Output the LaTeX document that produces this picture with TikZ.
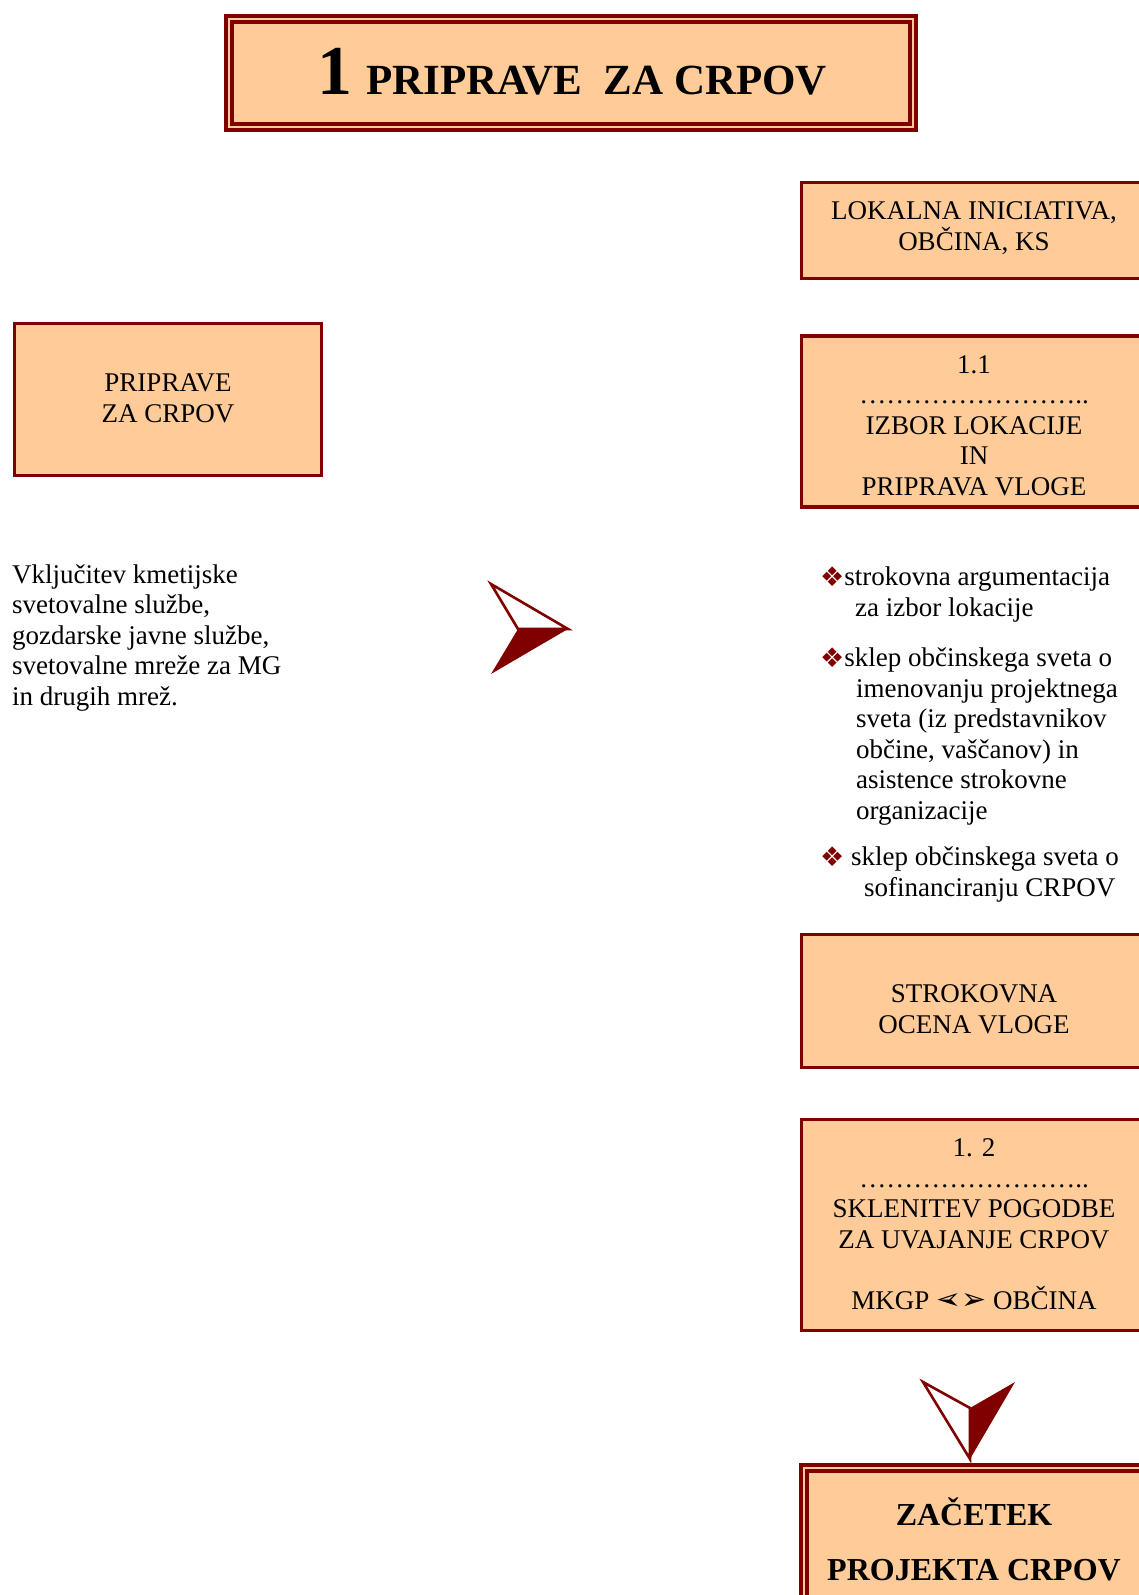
\documentclass[tikz,border=0pt]{standalone}
\usepackage{fontspec}
\setmainfont{Liberation Serif}
\newfontfamily\symfont{DejaVu Sans}
\definecolor{dred}{HTML}{800000}
\definecolor{peach}{HTML}{FFCC99}
\tikzset{
  box/.style={draw=dred, fill=peach, line width=3.3pt, rectangle, inner sep=0pt},
  dbox/.style={draw=dred, fill=peach, line width=3.6pt, double=peach, double distance=2.4pt, rectangle, inner sep=0pt},
  txt/.style={font=\fontsize{27}{30.5}\selectfont, align=center, inner sep=0pt, anchor=base},
  ltxt/.style={font=\fontsize{27}{30.5}\selectfont, align=left, inner sep=0pt, anchor=base west},
  btxt/.style={font=\fontsize{32}{55}\selectfont\bfseries, align=center, inner sep=0pt, anchor=base},
  outl/.style={draw=dred, fill=white, line width=2.6pt, line join=miter},
  solid/.style={fill=dred}
}
\newcommand\bulsym{{\symfont\fontsize{27}{27}\selectfont\color{dred}\raisebox{-1pt}{❖}}}
\newcommand\arrsym{{\symfont\fontsize{30}{30}\selectfont\reflectbox{➢}➢}}
\begin{document}
\begin{tikzpicture}[x=1pt,y=-1pt]
\useasboundingbox (0,0) rectangle (1139,1595);
\clip (0,0) rectangle (1139,1595);
% title
\node[dbox, minimum width=684pt, minimum height=108pt] (title) at (571,73) {};
\node[anchor=base, inner sep=0pt] (titletext) at (572,95)
  {{\fontsize{70}{70}\selectfont\bfseries 1}\hspace{14pt}{\fontsize{43}{43}\selectfont\bfseries PRIPRAVE\hspace{21pt}ZA CRPOV}};
% boxes
\node[box, minimum width=345pt, minimum height=96pt] (lokalna) at (974,230.5) {};
\node[box, minimum width=345pt, minimum height=171pt] (izbor) at (974,421.5) {};
\node[box, minimum width=307pt, minimum height=152pt] (priprave) at (168,399.5) {};
\node[box, minimum width=345pt, minimum height=132.5pt] (ocena) at (974,1001) {};
\node[box, minimum width=345pt, minimum height=211.5pt] (pogodba) at (974,1225) {};
\node[dbox, minimum width=340pt, minimum height=232pt] (zacetek) at (974,1584) {};
% box texts (anchor = baseline of last line)
\node[txt] (lokalnat) at (974,250) {LOKALNA INICIATIVA,\\OBČINA, KS};
\node[txt] (izbort) at (974,495) {1.1\\……………………..\\IZBOR LOKACIJE\\IN\\PRIPRAVA VLOGE};
\node[txt] (pripravet) at (168,422) {PRIPRAVE\\ZA CRPOV};
\node[txt] (ocenat) at (974,1033) {STROKOVNA\\OCENA VLOGE};
\node[txt] (pogodbat) at (974,1309) {1. 2\\……………………..\\SKLENITEV POGODBE\\ZA UVAJANJE CRPOV\\[30.5pt]MKGP \arrsym{} OBČINA};
\node[btxt] (zacetekt) at (974,1580) {ZAČETEK\\PROJEKTA CRPOV};
% left text
\node[ltxt] (vkljucitev) at (12,705) {Vključitev kmetijske\\svetovalne službe,\\gozdarske javne službe,\\svetovalne mreže za MG\\in drugih mrež.};
% bullets
\node[ltxt] (bul1) at (820,616) {\bulsym strokovna argumentacija\\\hspace*{35pt}za izbor lokacije};
\node[ltxt] (bul2) at (820,819) {\bulsym sklep občinskega sveta o\\\hspace*{36pt}imenovanju projektnega\\\hspace*{36pt}sveta (iz predstavnikov\\\hspace*{36pt}občine, vaščanov) in\\\hspace*{36pt}asistence strokovne\\\hspace*{36pt}organizacije};
\node[ltxt] (bul3) at (820,896) {\bulsym\ sklep občinskega sveta o\\\hspace*{44pt}sofinanciranju CRPOV};
% right arrow
\coordinate (raA) at (491,584);
\coordinate (raTip) at (568,629);
\coordinate (raN) at (518,629);
\coordinate (raB) at (491,674);
\path[outl] (raA) -- (raTip) -- (raN) -- cycle;
\path[solid] (raN) -- (raTip) -- (raB) -- cycle;
% down arrow
\coordinate (daL) at (923,1382);
\coordinate (daR) at (1015,1382);
\coordinate (daN) at (970,1408);
\coordinate (daTip) at (970,1459);
\path[outl] (daL) -- (daN) -- (daTip) -- cycle;
\path[solid] (daR) -- (daN) -- (daTip) -- cycle;
\end{tikzpicture}
\end{document}
